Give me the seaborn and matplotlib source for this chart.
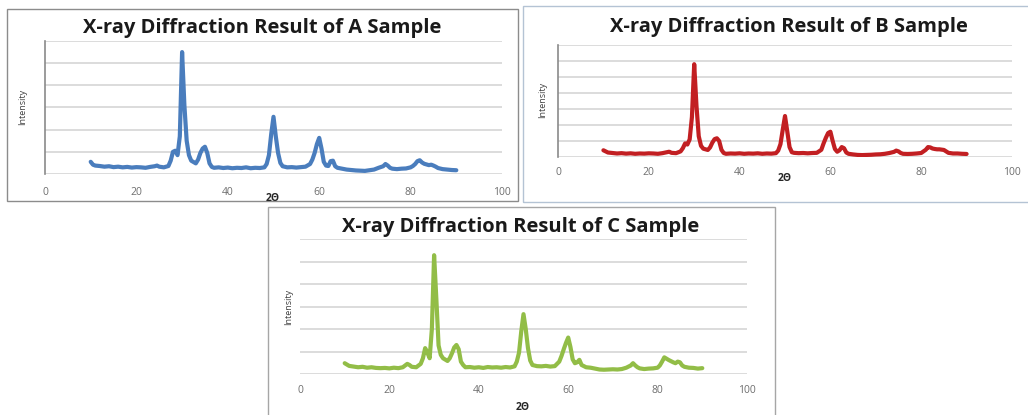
import matplotlib
matplotlib.use("Agg")
import matplotlib.pyplot as plt
from matplotlib.patches import Rectangle
import pandas as pd
import seaborn as sns

# ---- data ----
two_theta = [
    10, 10.5, 11, 12, 13, 14, 15, 16, 17, 18,
    19, 20, 21, 22, 23, 24, 24.5, 25, 26, 27,
    27.5, 28, 28.5, 29, 29.5, 30, 30.5, 31, 31.5, 32,
    33, 33.5, 34, 34.5, 35, 35.5, 36, 36.5, 37, 38,
    39, 40, 41, 42, 43, 44, 45, 46, 47, 48,
    48.5, 49, 49.5, 50, 50.5, 51, 51.5, 52, 53, 54,
    55, 56, 57, 58, 58.5, 59, 59.5, 60, 60.5, 61,
    61.5, 62, 62.5, 63, 63.5, 64, 65, 66, 67, 68,
    69, 70, 71, 72, 73, 74, 74.5, 75, 75.5, 76,
    77, 78, 79, 80, 80.5, 81, 81.5, 82, 82.5, 83,
    83.5, 84, 84.5, 85, 85.5, 86, 87, 88, 89, 90,
]

intensity_a = [
    55, 42, 38, 36, 33, 35, 31, 33, 30, 32,
    29, 31, 30, 28, 32, 35, 38, 33, 30, 36,
    60, 100, 105, 85, 170, 550, 310, 150, 85, 60,
    48, 65, 95, 115, 123, 95, 48, 32, 28, 30,
    27, 29, 26, 28, 27, 30, 26, 28, 27, 30,
    45, 85, 180, 258, 170, 95, 50, 35, 30, 31,
    29, 31, 33, 45, 65, 95, 135, 163, 115, 55,
    38, 36, 58, 60, 35, 28, 24, 20, 18, 16,
    15, 14, 17, 20, 28, 35, 45, 38, 28, 24,
    22, 24, 25, 30, 36, 45, 58, 62, 52, 46,
    43, 40, 42, 38, 33, 27, 22, 20, 18, 17,
]

intensity_b = [
    42, 35, 28, 25, 22, 24, 21, 23, 20, 22,
    21, 23, 22, 20, 24, 30, 33, 26, 24, 35,
    55, 85, 78, 110, 250, 580, 320, 130, 70, 52,
    44, 60, 90, 112, 117, 100, 45, 25, 20, 22,
    21, 23, 20, 22, 21, 23, 20, 22, 21, 24,
    40, 80, 170, 256, 160, 62, 30, 26, 24, 25,
    23, 25, 26, 45, 85, 120, 150, 158, 100, 50,
    33, 42, 62, 55, 28, 20, 16, 13, 12, 13,
    14, 16, 17, 20, 25, 32, 40, 35, 25, 20,
    19, 20, 22, 25, 35, 45, 62, 60, 53, 50,
    48, 48, 46, 44, 35, 26, 22, 22, 20, 19,
]

intensity_c = [
    48, 42, 36, 33, 30, 32, 28, 30, 27, 26,
    27, 25, 28, 26, 30, 45, 40, 32, 30, 45,
    70, 115, 95, 70, 200, 528, 335, 127, 85, 70,
    58, 70, 92, 118, 129, 110, 55, 40, 30, 31,
    28, 30, 27, 31, 29, 30, 28, 31, 29, 34,
    55, 95, 190, 266, 200, 115, 60, 40, 35, 34,
    36, 33, 35, 55, 80, 110, 138, 162, 120, 65,
    48, 52, 63, 40, 35, 30, 28, 24, 20, 19,
    20, 21, 20, 22, 28, 38, 48, 38, 30, 25,
    22, 24, 25, 28, 38, 55, 74, 68, 62, 57,
    52, 48, 55, 52, 38, 32, 28, 27, 24, 26,
]

sample_names = ["A", "B", "C"]
x_ticks = [0, 20, 40, 60, 80, 100]
y_tops = [600, 700, 600]

# ---- style ----
sns.set_style("white")
plt.rcParams['font.family'] = ['Open Sans', 'DejaVu Sans']

W, H = 1028, 415
fig = plt.figure(figsize=(W / 100, H / 100), dpi=100)


def fx(px):
    return px / W


def fy(py):
    return 1 - py / H


# panel frames (figure borders)
frames = [
    (7, 9, 518, 201, "#8c8c8c"),
    (523, 6, 1040, 202, "#b4c3d4"),
    (268, 207, 775, 420, "#a6a6a6"),
]
for x0, y0, x1, y1, col in frames:
    fig.patches.append(Rectangle((fx(x0), fy(y1)), fx(x1 - x0), (y1 - y0) / H,
                                 transform=fig.transFigure, fill=False,
                                 edgecolor=col, linewidth=1.0))

# axes geometry in pixels: left, right, top, bottom
geoms = [
    (45, 502, 41, 174),
    (558, 1012, 45, 157),
    (300, 747, 239, 374),
]
colors = ["#4a7dbd", "#c21f22", "#92bd47"]
series = [intensity_a, intensity_b, intensity_c]
title_pos = [(262, 28), (789, 27), (521, 227)]
xlabel_pos = [(273, 198), (785, 178), (523, 407)]
ylabel_pos = [(23, 107), (543, 100), (289, 307)]
tick_pads = [9, 7, 8]
left_spine = [True, True, False]

for i in range(3):
    l, r, t, b = geoms[i]
    ax = fig.add_axes([fx(l), fy(b), fx(r - l), (b - t) / H])
    df = pd.DataFrame({"two_theta": two_theta, "intensity": series[i]})
    sns.lineplot(data=df, x="two_theta", y="intensity", ax=ax,
                 color=colors[i], linewidth=3.0, solid_joinstyle="round")
    ax.set_xlim(0, 100)
    ax.set_ylim(0, y_tops[i])
    ax.set_xticks(x_ticks)
    ax.set_yticks(range(0, y_tops[i] + 1, 100))
    ax.set_yticklabels([])
    ax.grid(axis="y", color="#d9d9d9", linewidth=1.3)
    ax.grid(axis="x", visible=False)
    ax.set_axisbelow(True)
    for s in ["top", "right", "bottom"]:
        ax.spines[s].set_visible(False)
    if left_spine[i]:
        ax.spines["left"].set_color("#8a8a8a")
        ax.spines["left"].set_linewidth(1.2)
    else:
        ax.spines["left"].set_visible(False)
    ax.tick_params(axis="both", length=0)
    ax.tick_params(axis="x", labelsize=7.5, labelcolor="#6e6e6e", pad=tick_pads[i])
    ax.set_xlabel("")
    ax.set_ylabel("")

    tx, ty = title_pos[i]
    fig.text(fx(tx), fy(ty), f"X-ray Diffraction Result of {sample_names[i]} Sample",
             ha="center", va="center", fontsize=14.5, fontweight="bold", color="#1a1a1a")
    lx, ly = xlabel_pos[i]
    fig.text(fx(lx), fy(ly), "2Θ", ha="center", va="center", fontsize=7.5,
             fontweight="bold", color="#262626")
    yx, yy = ylabel_pos[i]
    fig.text(fx(yx), fy(yy), "Intensity", ha="center", va="center", fontsize=6.5,
             rotation=90, color="#404040")

fig.savefig("out.png", dpi=100)
